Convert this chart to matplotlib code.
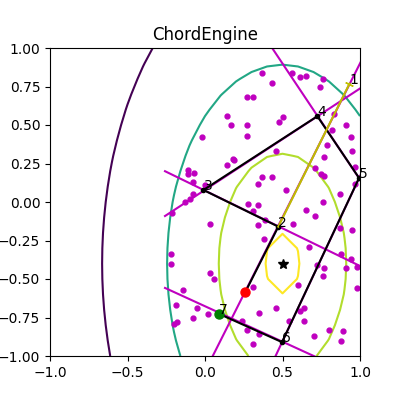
import numpy as np
import matplotlib
matplotlib.use("Agg")
import matplotlib.pyplot as plt

# target density: contours of  x_weight*(x-cx)^2 + (y-cy)^2
centre = (0.5, -0.4)
x_weight = 3.0
levels = [0.038, 0.51, 1.67, 4.07]

# magenta samples
sample_x = [0.37, 0.56, 0.61, 0.65, 0.76, 0.43, 0.74, 0.27, 0.31, 0.14,
            0.17, 0.27, 0.27, 0.50, 0.48, -0.02, 0.83, 0.91, 0.82, 0.94,
            0.79, 0.95, 0.46, 0.77, 0.18, 0.19, 0.14, 0.97, 0.71, 0.75,
            0.77, -0.11, -0.07, -0.11, -0.08, 0.00, 0.37, 0.43, 0.34, 0.97,
            0.52, 0.87, -0.08, -0.10, -0.13, 0.28, 0.34, 0.76, 0.65, 0.31,
            -0.21, 0.03, 0.71, 0.39, 0.34, 0.57, 0.87, 0.95, 0.38, 0.67,
            -0.22, -0.22, 0.88, 0.94, 0.72, 0.77, 0.91, 0.98, 0.76, 0.03,
            0.06, 0.60, 0.31, 0.98, -0.14, -0.19, -0.05, 0.02, 0.46, 0.35,
            0.61, 0.64, 0.64, 0.54, -0.08, -0.18, -0.20, 0.24, 0.27, 0.35,
            0.80, 0.89, 0.70, 0.88, 0.31]
sample_y = [0.84, 0.84, 0.81, 0.82, 0.80, 0.77, 0.75, 0.68, 0.68, 0.56,
            0.50, 0.50, 0.43, 0.55, 0.52, 0.42, 0.57, 0.50, 0.47, 0.42,
            0.37, 0.33, 0.33, 0.29, 0.28, 0.27, 0.24, 0.23, 0.22, 0.18,
            0.17, 0.21, 0.19, 0.18, 0.13, 0.11, 0.16, 0.16, 0.12, 0.12,
            0.08, 0.05, 0.05, 0.02, 0.00, -0.01, -0.02, 0.00, -0.05, -0.06,
            -0.07, -0.14, -0.09, -0.12, -0.15, -0.14, -0.17, -0.18, -0.24, -0.29,
            -0.34, -0.40, -0.34, -0.37, -0.41, -0.43, -0.43, -0.42, -0.48, -0.46,
            -0.50, -0.54, -0.55, -0.56, -0.57, -0.67, -0.69, -0.73, -0.69, -0.72,
            -0.71, -0.69, -0.77, -0.77, -0.75, -0.78, -0.79, -0.77, -0.83, -0.86,
            -0.83, -0.84, -0.87, -0.90, -0.92]

# chords (magenta lines)
chord_x0 = [0.03, -0.258, -0.258, 0.40, 0.432, -0.258]
chord_y0 = [-1.04, 0.20, -0.091, 1.05, -1.05, -0.558]
chord_x1 = [1.05, 1.05, 1.05, 1.05, 1.05, 0.81]
chord_y1 = [1.00, -0.44, 0.77, 0.07, 0.275, -1.05]

# chain: start (red), then points 2..7
path_x = [0.26, 0.473, -0.01, 0.725, 0.994, 0.497, 0.092]
path_y = [-0.585, -0.16, 0.078, 0.557, 0.156, -0.91, -0.727]
path_labels = ['', '2', '3', '4', '5', '6', '7']

point1 = (0.932, 0.768)

gx = np.linspace(-1, 1, 21)
X, Y = np.meshgrid(gx, gx)
Z = x_weight * (X - centre[0]) ** 2 + (Y - centre[1]) ** 2

fig = plt.figure(figsize=(4, 4))
plt.contour(X, Y, Z, levels=levels, cmap='viridis_r')
plt.plot(sample_x, sample_y, 'm.', markersize=7)
for i in range(len(chord_x0)):
    plt.plot([chord_x0[i], chord_x1[i]], [chord_y0[i], chord_y1[i]], 'm-')
plt.plot(path_x, path_y, 'k.-')
plt.plot([path_x[1], point1[0]], [path_y[1], point1[1]], 'y-')
plt.plot([point1[0]], [point1[1]], 'y', marker=(2, 2, 64), markersize=6)
plt.text(point1[0], point1[1], '1')
for x, y, s in zip(path_x, path_y, path_labels):
    if s:
        plt.text(x, y, s)
plt.plot(path_x[0], path_y[0], 'ro', markersize=6.5)
plt.plot(path_x[-1], path_y[-1], 'go', markersize=6.5)
plt.plot(centre[0], centre[1], 'k*', markersize=7)
plt.xlim(-1, 1)
plt.ylim(-1, 1)
plt.title('ChordEngine')
plt.savefig('out.png')
